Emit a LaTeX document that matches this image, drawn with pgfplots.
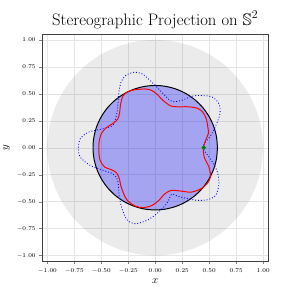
\documentclass[border=0pt]{standalone}
\usepackage{pgfplots}
\pgfplotsset{compat=1.18}
\usepackage{amssymb}
\begin{document}
\begin{tikzpicture}
\begin{axis}[
  scale only axis, width=230pt, height=230pt,
  xmin=-1.05, xmax=1.05, ymin=-1.05, ymax=1.05,
  xtick={-1,-0.75,-0.5,-0.25,0,0.25,0.5,0.75,1},
  ytick={-1,-0.75,-0.5,-0.25,0,0.25,0.5,0.75,1},
  tick label style={font=\fontsize{6.5}{7}\selectfont, /pgf/number format/fixed, /pgf/number format/fixed zerofill, /pgf/number format/precision=2},
  xticklabel style={yshift=-1.5pt},
  tick align=outside, tick pos=left, major tick length=3pt,
  grid=major, grid style={black!10, line width=0.4pt},
  axis line style={black!75, line width=0.8pt},
  title={Stereographic Projection on $\mathbb{S}^2$},
  title style={font=\fontsize{16.9}{20}\selectfont, at={(axis description cs:0.5,1)}, anchor=base, yshift=3.5pt},
  xlabel={$x$}, ylabel={$y$},
  label style={font=\fontsize{11}{13}\selectfont},
  xlabel style={at={(axis description cs:0.5,0)}, anchor=base, yshift=-23pt},
]
\addplot[draw=none, fill=black, fill opacity=0.08, smooth, data cs=polar] coordinates {
(0,1) (10,1) (20,1) (30,1) (40,1) (50,1) (60,1) (70,1) (80,1) (90,1) (100,1) (110,1) (120,1) (130,1) (140,1) (150,1) (160,1) (170,1) (180,1) (190,1) (200,1) (210,1) (220,1) (230,1) (240,1) (250,1) (260,1) (270,1) (280,1) (290,1) (300,1) (310,1) (320,1) (330,1) (340,1) (350,1) (360,1)};
\addplot[draw=black, line width=1pt, fill=blue, fill opacity=0.3, smooth, data cs=polar] coordinates {
(0,0.577) (10,0.577) (20,0.577) (30,0.577) (40,0.577) (50,0.577) (60,0.577) (70,0.577) (80,0.577) (90,0.577) (100,0.577) (110,0.577) (120,0.577) (130,0.577) (140,0.577) (150,0.577) (160,0.577) (170,0.577) (180,0.577) (190,0.577) (200,0.577) (210,0.577) (220,0.577) (230,0.577) (240,0.577) (250,0.577) (260,0.577) (270,0.577) (280,0.577) (290,0.577) (300,0.577) (310,0.577) (320,0.577) (330,0.577) (340,0.577) (350,0.577) (360,0.577)};
\addplot[blue, dotted, line width=0.9pt, smooth, data cs=polar] coordinates {
(0,0.45) (4.5,0.456) (12.5,0.528) (20,0.598) (27.6,0.677) (34.5,0.717) (41.5,0.708) (48.7,0.644) (55,0.581) (61,0.501) (70.6,0.457) (83.2,0.518) (92.8,0.608) (100,0.695) (105.7,0.727) (112.2,0.723) (117.6,0.685) (124.2,0.603) (132.8,0.512) (142,0.461) (152.4,0.445) (160,0.515) (167,0.637) (173.3,0.701) (179.5,0.712) (187,0.702) (195,0.627) (203.4,0.528) (211.6,0.462) (221,0.461) (234,0.566) (242.5,0.655) (249,0.72) (255.5,0.728) (263.6,0.677) (271.4,0.612) (281.5,0.53) (289.4,0.458) (295.3,0.499) (302.7,0.562) (309,0.628) (315.2,0.684) (321.8,0.714) (330.5,0.679) (338.6,0.619) (346,0.547) (356.9,0.455) (360,0.45)};
\addplot[red, line width=1pt, smooth, data cs=polar] coordinates {
(0,0.445) (8,0.47) (15,0.51) (22,0.525) (30,0.545) (37,0.55) (43,0.536) (51,0.488) (62,0.43) (70,0.413) (81,0.446) (88,0.496) (94,0.535) (100,0.553) (109,0.569) (116,0.578) (122,0.565) (128.5,0.516) (136,0.46) (143,0.437) (150.5,0.453) (158,0.492) (166,0.518) (174,0.523) (183,0.524) (193,0.524) (201,0.502) (206,0.459) (213,0.427) (221,0.44) (228,0.476) (236,0.52) (242,0.552) (251,0.572) (259,0.566) (267,0.535) (274,0.489) (282,0.436) (291,0.423) (301,0.47) (309,0.53) (318,0.57) (325,0.585) (332,0.58) (340,0.531) (349,0.463) (360,0.445)};
\addplot[only marks, mark=*, mark size=2pt, color=green!50!black] coordinates {(0.45,0)};
\end{axis}
\path (-38pt,-34pt) rectangle (261pt,265pt);
\end{tikzpicture}
\end{document}
